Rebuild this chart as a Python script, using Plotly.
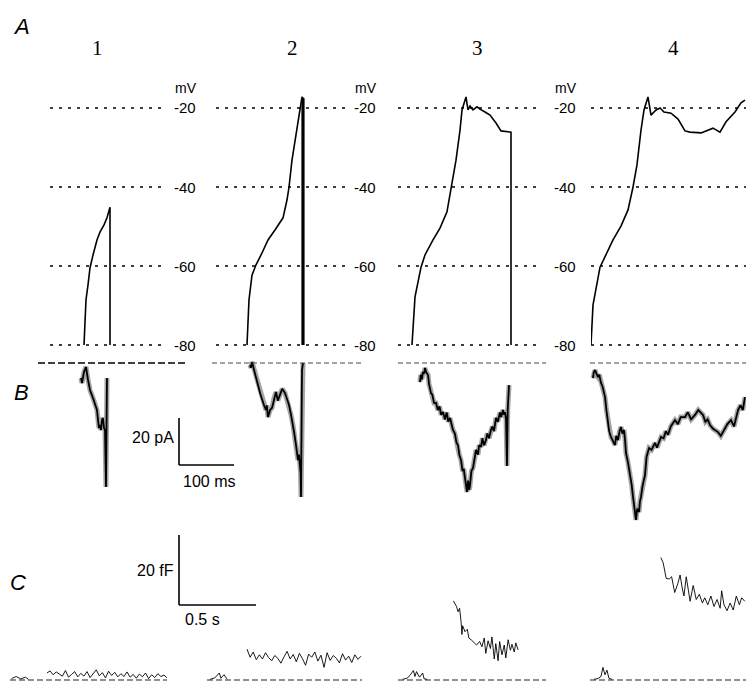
import plotly.graph_objects as go

W, H = 746, 686

# ---------------- data ----------------
col_labels = ["1", "2", "3", "4"]
mv_levels = [-20, -40, -60, -80]
mv_tick_text = ["-20", "-40", "-60", "-80"]

# Panel A: membrane potential (mV) vs time (ms)
a1_t = [0, 1.8, 3.6, 7.3, 10.9, 16.4, 23.6, 29.1, 36.4, 41.8, 47.3, 47.3]
a1_v = [-80, -73.7, -68.6, -64.8, -60.5, -57.2, -53.4, -51.4, -49.6, -47.8, -45.1, -80]

a2_t = [0, 3.6, 9.1, 16.4, 27.3, 38.2, 50.9, 65.5, 72.7, 76.4, 81.8, 89.1, 94.5, 100, 101.8, 101.8]
a2_v = [-80, -68.6, -62.3, -59.7, -56.7, -53.4, -50.9, -47.8, -43.3, -40, -33.2, -26.8, -21, -17.2, -17.5, -80]

a3_t = [0, 5.5, 16.4, 23.6, 38.2, 50.9, 63.6, 70.9, 80, 87.3, 90.9, 98.2, 101.8, 105.5, 110.9,
        118.2, 123.6, 132.7, 141.8, 152.7, 161.8, 180, 180]
a3_v = [-80, -67.8, -60.3, -57.2, -53.4, -50.4, -46.3, -40, -33.2, -25.6, -20.5, -17.2, -20.5, -19.5, -20.5,
        -19.7, -20.3, -21, -21.8, -23.8, -25.8, -26.1, -80]

a4_t = [0, 3.6, 16.4, 27.3, 40, 54.5, 67.3, 76.4, 83.6, 90.9, 96.4, 103.6, 109.1, 118.2, 125.5, 132.7,
        145.5, 158.2, 170.9, 180, 200, 209.1, 221.8, 234.5, 245.5, 261.8, 272.7, 280]
a4_v = [-80, -69.9, -60.3, -57.2, -53.4, -49.9, -45.8, -40, -34.4, -25.6, -20.5, -17.2, -21.8, -20.5, -20, -21,
        -21.3, -22.8, -25.8, -26.1, -26.3, -25.8, -25.1, -26.1, -23.5, -21, -18.7, -18]

# Panel B: Ca2+ current (pA) vs time (ms)
b1_t = [-5.5, -3.6, 0, 3.6, 7.3, 10.9, 16.4, 20, 23.6, 25.5, 27.3, 29.1, 30.9, 32.7, 34.5, 36.4, 38.2, 40, 41.8]
b1_i = [-6.4, -8.5, -3.8, -1.7, -7.2, -11.5, -14.9, -17.9, -20, -24.3, -27.7, -26.4, -28.5, -24.3, -23.4,
        -27.7, -28.5, -52.8, -6.4]

b2_t = [5.5, 7, 9.1, 12, 14.5, 17, 20, 24, 27.3, 31, 34.5, 36, 38.2, 42, 45.5, 49, 52.7, 56, 60, 64,
        69.1, 72, 76.4, 80, 83.6, 86, 89.1, 91, 92.7, 94.5, 96.4, 97.5, 98.2, 100, 101.8]
b2_i = [-0.9, -2, 0.4, -2, -3.8, -7, -9.4, -13, -15.7, -18, -20, -18, -23, -20, -19.1, -15, -12.3, -16, -13.6, -11,
        -12.8, -15, -17.9, -22, -26.4, -30, -34.9, -38, -41.3, -39, -43.4, -47, -57, -3, 0]

b3_t = [14.5, 16, 18, 20, 22, 23.6, 26, 29.1, 31, 34.5, 37, 40, 43.6, 47, 50, 53, 56.4, 60, 63, 66, 69.1, 72,
        74.5, 78, 81, 83.6, 86, 89.1, 92, 94, 96.4, 98, 100, 102, 104, 105.5, 108, 110.9, 113, 116.4, 120,
        122, 125.5, 128, 131, 134.5, 137, 140, 143.6, 146, 149, 152.7, 156, 160, 162, 165.5, 167, 169.1,
        171, 172.7, 174, 176.4]
b3_i = [-8.1, -5, -7, -3.8, -4.5, -2.1, -4, -5.1, -9, -12.8, -13.5, -17, -17, -20, -18.5, -22, -20.9, -24, -21,
        -25, -23.4, -27, -28.5, -30, -34, -34.9, -39, -41.3, -46, -45, -49.8, -53, -54.9, -50, -54, -51.9, -46,
        -44.7, -41, -37, -39, -35, -35.7, -32, -35, -32.8, -30, -32, -28.5, -27, -29, -23.4, -25, -21, -23,
        -20, -22, -20.9, -24, -43.8, -20, -9.4]

b4_t = [3.6, 5, 7.3, 10, 12.7, 15, 18.2, 21, 25.5, 28, 30.9, 33, 36.4, 40, 43.6, 46, 49.1, 52, 54.5, 57,
        60, 62, 63.6, 67, 70.9, 74, 76.4, 79, 81.8, 84, 87.3, 89, 90.9, 94, 98.2, 101, 105.5, 110, 116.4, 120,
        127.3, 132, 136, 140, 145, 152.7, 158, 163, 170.9, 176, 182, 189.1, 195, 203.6, 208, 212, 216.4, 222,
        230.9, 236, 243.6, 248, 254.5, 260, 267.3, 272, 276, 280]
b4_i = [-6.4, -4, -3, -5, -6, -5, -8.5, -10, -14.5, -20, -24.3, -29, -31.5, -33, -34.9, -31, -32.8, -29, -27.2,
        -30, -28.5, -33, -38.3, -42, -46.8, -52, -57, -62, -66.8, -62, -63.4, -59, -57, -52, -47.7, -40, -36.2,
        -37, -34, -36, -31.5, -32, -29, -30.5, -27, -24.3, -26, -23, -23, -21, -24, -22.1, -20, -22.1, -25,
        -24, -26.4, -28, -29.4, -31, -27.7, -26, -24.3, -27, -20, -18, -20, -14.5]

# Panel C: membrane capacitance change (fF) vs time (s); pre = before pulse, post = after pulse
c1_pre_t = [0.01, 0.04, 0.07, 0.10, 0.12]
c1_pre_f = [0.4, 1.0, 0.3, 0.8, 0.2]
c1_t = [0.24, 0.26, 0.28, 0.30, 0.32, 0.34, 0.36, 0.38, 0.40, 0.42, 0.44, 0.46, 0.48, 0.50, 0.52, 0.54,
        0.56, 0.58, 0.60, 0.62, 0.64, 0.66, 0.68, 0.70, 0.72, 0.74, 0.76, 0.78, 0.80, 0.82, 0.84, 0.86,
        0.88, 0.90, 0.92, 0.94, 0.96, 0.98, 1.00, 1.02]
c1_f = [2.0, 2.6, 1.5, 2.3, 1.7, 1.1, 2.7, 0.8, 1.6, 2.4, 0.9, 1.9, 1.1, 2.4, 0.7, 1.7, 2.9, 1.2, 2.1, 0.6,
        2.5, 1.3, 2.2, 0.9, 1.8, 1.0, 2.3, 0.8, 1.6, 0.5, 1.7, 0.9, 2.0, 0.4, 1.5, 0.7, 1.8, 1.0, 1.4, 0.6]

c2_pre_t = [0.02, 0.05, 0.08, 0.09, 0.11, 0.13]
c2_pre_f = [0.2, 0.6, 2.0, 0.5, 1.5, 0.3]
c2_t = [0.26, 0.28, 0.30, 0.32, 0.34, 0.36, 0.38, 0.40, 0.42, 0.44, 0.46, 0.48, 0.50, 0.52, 0.54, 0.56,
        0.58, 0.60, 0.62, 0.64, 0.66, 0.68, 0.70, 0.72, 0.74, 0.76, 0.78, 0.80, 0.82, 0.84, 0.86, 0.88,
        0.90, 0.92, 0.94, 0.96, 0.98, 1.00]
c2_f = [8.8, 6.5, 8.0, 5.8, 7.2, 6.0, 7.8, 6.4, 5.5, 7.0, 6.2, 4.8, 6.6, 8.2, 6.0, 7.3, 5.2, 7.6, 6.1, 4.2,
        7.4, 6.5, 8.0, 5.4, 7.1, 3.6, 7.8, 5.6, 7.0, 6.2, 4.9, 7.5, 5.7, 6.8, 5.0, 7.2, 5.9, 6.8]

c3_pre_t = [0.03, 0.06, 0.08, 0.10, 0.11, 0.12, 0.14, 0.16, 0.17, 0.19]
c3_pre_f = [0.2, 0.5, 1.5, 2.7, 1.0, 2.4, 0.8, 2.0, 0.3, 0.2]
c3_t = [0.36, 0.38, 0.39, 0.40, 0.41, 0.415, 0.42, 0.435, 0.45, 0.46, 0.475, 0.495, 0.51, 0.53, 0.545,
        0.56, 0.57, 0.585, 0.60, 0.61, 0.625, 0.635, 0.65, 0.66, 0.675, 0.69, 0.70, 0.715, 0.73, 0.74,
        0.755, 0.765, 0.78]
c3_f = [22.6, 21.0, 19.5, 20.5, 16.5, 13.0, 15.5, 13.8, 14.5, 12.0, 11.5, 10.5, 10.0, 11.0, 9.5, 12.0,
        7.6, 11.2, 9.0, 12.3, 6.0, 10.4, 5.5, 11.0, 7.2, 10.0, 6.3, 11.5, 8.5, 10.2, 8.0, 10.6, 8.6]

c4_pre_t = [0.026, 0.052, 0.071, 0.084, 0.097, 0.110, 0.123, 0.143]
c4_pre_f = [0.2, 0.4, 1.0, 3.6, 1.5, 2.8, 0.5, 0.2]
c4_t = [0.46, 0.475, 0.495, 0.515, 0.53, 0.55, 0.57, 0.585, 0.60, 0.61, 0.625, 0.635, 0.65, 0.67, 0.69,
        0.71, 0.73, 0.745, 0.765, 0.785, 0.805, 0.825, 0.845, 0.855, 0.87, 0.89, 0.91, 0.93, 0.95, 0.97,
        0.985, 1.005]
c4_f = [35.0, 33.5, 29.0, 28.9, 29.5, 25.0, 27.5, 30.0, 26.0, 24.0, 29.5, 26.5, 22.5, 27.0, 23.0, 24.5,
        22.0, 23.5, 21.5, 24.0, 21.0, 23.0, 20.5, 25.5, 21.5, 19.8, 22.0, 20.0, 24.0, 21.5, 23.5, 22.5]

# scale bars (data units)
scale_i_pa, scale_t_ms = 20, 100
scale_c_ff, scale_c_s = 20, 0.5

# ---------------- geometry (pixels) ----------------
PX_PER_MS = 0.55
PX_PER_MV = 3.95
PX_PER_PA = 2.35
PX_PER_S = 154.0
PX_PER_FF = 3.5

A_cols = [(50, 162, 84), (216, 345, 247), (398, 540, 412), (591, 746, 591)]  # left, right, t0 px
B_cols = [(38, 187), (212, 362), (398, 546), (590, 746)]
C_cols = [(10, 167), (207, 362), (398, 546), (590, 746)]
A_REF_PX, A_REF_MV = 108, -20
A_BOX = (60, 352)
B_ZERO_PX, B_BOX = 363, (352, 545)
C_ZERO_PX, C_BOX = 680, (515, 686)
label_x = [186, 366, 566]
col_num_x = [97, 292, 477, 673]

FONT = "Liberation Sans, Arial, sans-serif"
SERIF = "Liberation Serif, Times New Roman, serif"


def fx(px):
    return px / W


def fy(py):
    return 1 - py / H


def mv_at(py):
    return A_REF_MV - (py - A_REF_PX) / PX_PER_MV


def pa_at(py):
    return -(py - B_ZERO_PX) / PX_PER_PA


def ff_at(py):
    return (C_ZERO_PX - py) / PX_PER_FF


def xname(k):
    return "x" if k == 0 else f"x{k + 1}"


fig = go.Figure()
layout_axes = {}
for i in range(4):
    L, R, t0 = A_cols[i]
    layout_axes["xaxis" if i == 0 else f"xaxis{i + 1}"] = dict(
        domain=[fx(L), fx(R)], range=[(L - t0) / PX_PER_MS, (R - t0) / PX_PER_MS], anchor="y")
    Lb, Rb = B_cols[i]
    layout_axes[f"xaxis{i + 5}"] = dict(
        domain=[fx(Lb), fx(Rb)], range=[(Lb - t0) / PX_PER_MS, (Rb - t0) / PX_PER_MS], anchor="y2")
    Lc, Rc = C_cols[i]
    layout_axes[f"xaxis{i + 9}"] = dict(
        domain=[fx(Lc), fx(Rc)], range=[0, (Rc - Lc) / PX_PER_S], anchor="y3")
layout_axes["yaxis"] = dict(domain=[fy(A_BOX[1]), fy(A_BOX[0])], range=[mv_at(A_BOX[1]), mv_at(A_BOX[0])], anchor="x")
layout_axes["yaxis2"] = dict(domain=[fy(B_BOX[1]), fy(B_BOX[0])], range=[pa_at(B_BOX[1]), pa_at(B_BOX[0])], anchor="x5")
layout_axes["yaxis3"] = dict(domain=[fy(C_BOX[1]), fy(C_BOX[0])], range=[ff_at(C_BOX[1]), ff_at(C_BOX[0])], anchor="x9")
for k, v in layout_axes.items():
    v.update(visible=False, fixedrange=True, showgrid=False, zeroline=False)

A_data = [(a1_t, a1_v), (a2_t, a2_v), (a3_t, a3_v), (a4_t, a4_v)]
B_data = [(b1_t, b1_i), (b2_t, b2_i), (b3_t, b3_i), (b4_t, b4_i)]
C_data = [(c1_pre_t, c1_pre_f, c1_t, c1_f), (c2_pre_t, c2_pre_f, c2_t, c2_f),
          (c3_pre_t, c3_pre_f, c3_t, c3_f), (c4_pre_t, c4_pre_f, c4_t, c4_f)]

for i in range(4):
    t, v = A_data[i]
    fig.add_trace(go.Scatter(x=t, y=v, xaxis=xname(i), yaxis="y", mode="lines",
                             line=dict(color="black", width=1.6), hoverinfo="skip"))
    if i == 1:
        fig.add_trace(go.Scatter(x=t[-2:], y=v[-2:], xaxis=xname(i), yaxis="y", mode="lines",
                                 line=dict(color="black", width=3.2), hoverinfo="skip"))
    t, c = B_data[i]
    fig.add_trace(go.Scatter(x=t, y=c, xaxis=xname(i + 4), yaxis="y2", mode="lines",
                             line=dict(color="rgba(0,0,0,0.35)", width=5), hoverinfo="skip"))
    fig.add_trace(go.Scatter(x=t, y=c, xaxis=xname(i + 4), yaxis="y2", mode="lines",
                             line=dict(color="black", width=1.8), hoverinfo="skip"))
    pt, pf, qt, qf = C_data[i]
    for tt, ff in ((pt, pf), (qt, qf)):
        fig.add_trace(go.Scatter(x=tt, y=ff, xaxis=xname(i + 8), yaxis="y3", mode="lines",
                                 line=dict(color="black", width=0.9), hoverinfo="skip"))

shapes = []
for i in range(4):
    for lv in mv_levels:
        shapes.append(dict(type="line", xref=f"{xname(i)} domain", x0=0, x1=1, yref="y", y0=lv, y1=lv,
                           line=dict(color="black", width=1.4, dash="3px,6px"), layer="above"))
    shapes.append(dict(type="line", xref=f"{xname(i + 4)} domain", x0=0, x1=1, yref="y2", y0=0, y1=0,
                       line=dict(color="black" if i == 0 else "#444", width=1.6 if i == 0 else 1.1,
                                 dash="7px,3px" if i == 0 else "5px,3px"), layer="above"))
    shapes.append(dict(type="line", xref=f"{xname(i + 8)} domain", x0=0, x1=1, yref="y3", y0=0, y1=0,
                       line=dict(color="#222", width=1.1, dash="6px,3px"), layer="above"))

# scale bars
SB_X = 179
SB_B_Y = 465
SB_C_Y = 605
bar = dict(color="black", width=1.6)
shapes += [
    dict(type="line", xref="paper", yref="paper", x0=fx(SB_X), x1=fx(SB_X),
         y0=fy(SB_B_Y), y1=fy(SB_B_Y - scale_i_pa * PX_PER_PA), line=bar),
    dict(type="line", xref="paper", yref="paper", x0=fx(SB_X), x1=fx(SB_X + scale_t_ms * PX_PER_MS),
         y0=fy(SB_B_Y), y1=fy(SB_B_Y), line=bar),
    dict(type="line", xref="paper", yref="paper", x0=fx(SB_X), x1=fx(SB_X),
         y0=fy(SB_C_Y), y1=fy(SB_C_Y - scale_c_ff * PX_PER_FF), line=bar),
    dict(type="line", xref="paper", yref="paper", x0=fx(SB_X), x1=fx(SB_X + scale_c_s * PX_PER_S),
         y0=fy(SB_C_Y), y1=fy(SB_C_Y), line=bar),
]

ann = []


def txt(text, x, y, size, family=FONT, xanchor="center", yanchor="middle"):
    ann.append(dict(text=text, x=fx(x), y=fy(y), xref="paper", yref="paper", showarrow=False,
                    font=dict(family=family, size=size, color="black"), xanchor=xanchor, yanchor=yanchor))


txt("<i>A</i>", 21, 27, 22)
txt("<i>B</i>", 21, 392, 22)
txt("<i>C</i>", 18, 582, 22)
for i in range(4):
    txt(col_labels[i], col_num_x[i], 48, 21, family=SERIF)
for xc in label_x:
    txt("mV", xc, 88, 14)
    for lv, lab in zip(mv_levels, mv_tick_text):
        txt(lab, xc - 1, A_REF_PX + (A_REF_MV - lv) * PX_PER_MV, 15)

txt(f"{scale_i_pa} pA", SB_X - 3, SB_B_Y - scale_i_pa * PX_PER_PA / 2 - 4, 16, xanchor="right")
txt(f"{scale_t_ms} ms", SB_X + 2, SB_B_Y + 16, 16, xanchor="left")
txt(f"{scale_c_ff} fF", SB_X - 3, SB_C_Y - scale_c_ff * PX_PER_FF / 2, 16, xanchor="right")
txt(f"{scale_c_s} s", SB_X + 4, SB_C_Y + 14, 16, xanchor="left")

fig.update_layout(width=W, height=H, margin=dict(l=0, r=0, t=0, b=0), showlegend=False,
                  plot_bgcolor="rgba(0,0,0,0)", paper_bgcolor="white", shapes=shapes, annotations=ann,
                  **layout_axes)
fig.write_html("out.html")
